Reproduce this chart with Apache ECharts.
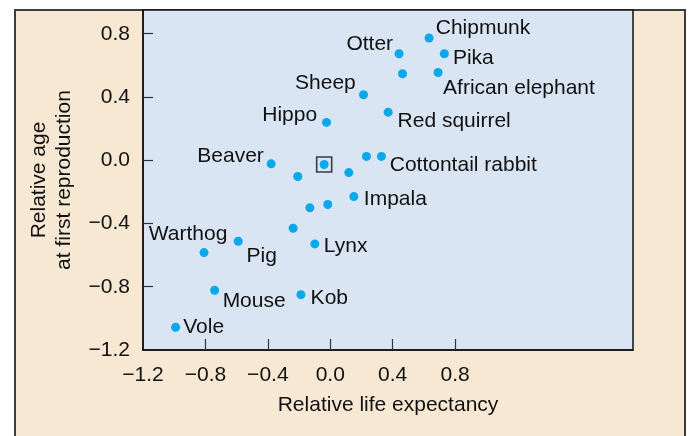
<!DOCTYPE html>
<html>
<head>
<meta charset="utf-8">
<script src="https://cdn.jsdelivr.net/npm/echarts@6/dist/echarts.min.js"></script>
<style>
  html, body { margin: 0; padding: 0; background: #ffffff; }
  #chart { width: 689px; height: 436px; }
</style>
</head>
<body>
<div id="chart"></div>
<script>
// ---- Data ----
const labels = ['Chipmunk', 'Otter', 'Pika', '', 'African elephant', 'Sheep', 'Red squirrel',
  '', 'Cottontail rabbit', '', 'Impala', 'Hippo', 'Beaver', '', '', '', '', '',
  'Pig', 'Lynx', 'Warthog', 'Mouse', 'Kob', 'Vole'];
const lifeExpectancy = [0.633, 0.441, 0.731, 0.463, 0.691, 0.213, 0.371,
  0.232, 0.328, 0.119, 0.151, -0.024, -0.379, -0.208, -0.039, -0.131, -0.016, -0.238,
  -0.590, -0.099, -0.809, -0.741, -0.188, -0.991];
const ageFirstRepro = [0.773, 0.673, 0.673, 0.547, 0.555, 0.414, 0.304,
  0.024, 0.024, -0.078, -0.230, 0.239, -0.023, -0.103, -0.027, -0.301, -0.280, -0.430,
  -0.512, -0.529, -0.584, -0.822, -0.850, -1.056];
const boxedIndex = [14];
const tickValues = [-0.8, -0.4, 0.0, 0.4, 0.8];
const tickLabelValues = [-1.2, -0.8, -0.4, 0.0, 0.4, 0.8];

// ---- Label placement (style only): [align, dx, dy] from the dot centre ----
const labelPlace = {
  'Chipmunk': ['left', 6.7, -9.5],
  'Otter': ['right', -6, -9.5],
  'Pika': ['left', 8.6, 4.7],
  'African elephant': ['left', 5, 15.6],
  'Sheep': ['right', -7.7, -11.7],
  'Hippo': ['right', -9.4, -7.7],
  'Red squirrel': ['left', 9.4, 9.2],
  'Cottontail rabbit': ['left', 8.3, 8.3],
  'Beaver': ['right', -7.3, -7.3],
  'Impala': ['left', 10, 3],
  'Warthog': ['right', 23.3, -18.7],
  'Pig': ['left', 8.4, 15.4],
  'Lynx': ['left', 9, 2.7],
  'Mouse': ['left', 8, 10.7],
  'Kob': ['left', 9.7, 3.3],
  'Vole': ['left', 7.6, 0]
};

const FONT = '"Liberation Sans", Arial, Helvetica, sans-serif';
const DOT = 9;
const fmt = v => (v < 0 ? '\u2212' : '') + Math.abs(v).toFixed(1);

const points = lifeExpectancy.map((x, i) => {
  const name = labels[i];
  const item = { value: [x, ageFirstRepro[i]], name: name };
  if (name && labelPlace[name]) {
    const p = labelPlace[name];
    item.label = {
      show: true,
      position: [DOT / 2 + p[1], DOT / 2 + p[2]],
      align: p[0],
      verticalAlign: 'middle',
      formatter: '{b}'
    };
  }
  return item;
});
const boxed = boxedIndex.map(i => [lifeExpectancy[i], ageFirstRepro[i]]);

const chart = echarts.init(document.getElementById('chart'), null, { renderer: 'canvas' });
chart.setOption({
  animation: false,
  backgroundColor: '#ffffff',
  textStyle: { fontFamily: FONT },
  graphic: [{
    type: 'rect',
    z: -10,
    silent: true,
    shape: { x: 15, y: 10, width: 670, height: 440 },
    style: { fill: '#f6e8d2', stroke: '#3c3c3c', lineWidth: 2 }
  }],
  grid: {
    left: 143, top: 10, right: 56, bottom: 86,
    show: true,
    backgroundColor: '#d9e5f3',
    borderColor: '#111111',
    borderWidth: 1.5
  },
  xAxis: {
    type: 'value',
    min: -1.2, max: 1.94, interval: 0.4,
    splitLine: { show: false },
    axisLine: { show: true, onZero: false, lineStyle: { color: '#111', width: 1.5 } },
    axisTick: { show: true, inside: true, length: 11, customValues: tickValues, lineStyle: { color: '#333', width: 1.2 } },
    axisLabel: { customValues: tickLabelValues, formatter: fmt, color: '#111', fontSize: 21, margin: 15, fontFamily: FONT },
    name: 'Relative life expectancy',
    nameLocation: 'middle',
    nameGap: 45,
    nameTextStyle: { color: '#111', fontSize: 21, fontFamily: FONT }
  },
  yAxis: {
    type: 'value',
    min: -1.2, max: 0.95, interval: 0.4,
    splitLine: { show: false },
    axisLine: { show: true, onZero: false, lineStyle: { color: '#111', width: 1.5 } },
    axisTick: { show: true, inside: true, length: 10, customValues: tickValues, lineStyle: { color: '#333', width: 1.2 } },
    axisLabel: { customValues: tickLabelValues, formatter: fmt, color: '#111', fontSize: 21, margin: 13, fontFamily: FONT },
    name: 'Relative age\nat first reproduction',
    nameLocation: 'middle',
    nameRotate: 90,
    nameGap: 66,
    nameTextStyle: { color: '#111', fontSize: 21, lineHeight: 25, align: 'center', fontFamily: FONT }
  },
  series: [
    {
      type: 'scatter',
      z: 1,
      silent: true,
      symbol: 'rect',
      symbolSize: 15,
      itemStyle: { color: 'rgba(0,0,0,0)', borderColor: '#111', borderWidth: 1.6 },
      emphasis: { disabled: true },
      data: boxed
    },
    {
      type: 'scatter',
      z: 2,
      silent: true,
      symbolSize: DOT,
      itemStyle: { color: '#0aa8ea', opacity: 1 },
      emphasis: { disabled: true },
      label: { color: '#111', fontSize: 21, fontFamily: FONT },
      labelLayout: { hideOverlap: false },
      data: points
    }
  ]
});
</script>
</body>
</html>
